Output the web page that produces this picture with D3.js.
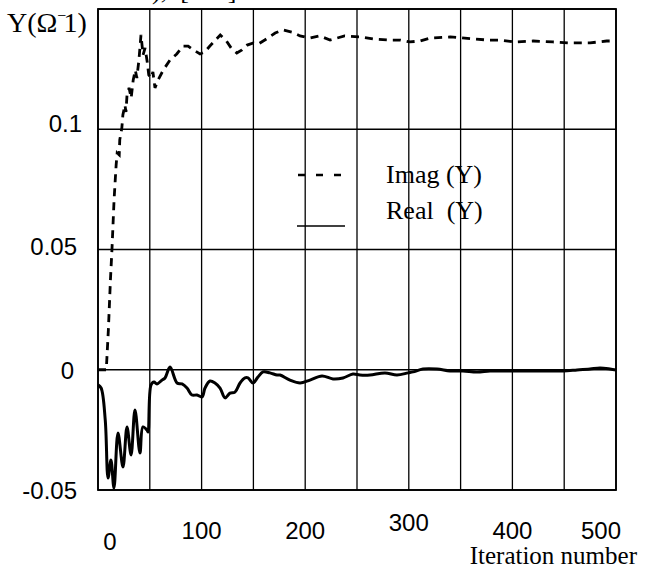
<!DOCTYPE html>
<html>
<head>
<meta charset="utf-8">
<script src="https://cdn.jsdelivr.net/npm/d3@7/dist/d3.min.js"></script>
<style>
  html, body { margin: 0; padding: 0; background: #fff; }
  svg { display: block; }
</style>
</head>
<body>
<svg id="chart" width="655" height="570"></svg>
<script>
// ---- data ----
const imagIter = [0, 8, 10, 12, 13.5, 15.5, 17.5, 18.5, 20.5, 21, 23, 24, 26, 27, 28, 30, 32, 34, 36, 37.5,
  39.5, 41.5, 43.5, 45.5, 47.5, 49, 51, 53, 55, 58, 63, 69.5, 76, 82, 87, 92, 98.5, 103, 108, 118,
  124, 128.5, 134, 139, 144, 150, 154.5, 161, 171, 178.5, 187, 195, 204.5, 214, 224, 238, 253, 267, 282, 291.5,
  301, 311, 320.5, 340, 354, 375.5, 388, 402.5, 420, 439, 455.5, 475, 491, 498];
const imagVal = [0, 0, 0.0165, 0.0373, 0.0502, 0.0706, 0.0851, 0.0901, 0.0893, 0.0956, 0.1005, 0.1059, 0.1101, 0.1072, 0.1142, 0.1172, 0.1130, 0.1205, 0.1246, 0.1213,
  0.1288, 0.1392, 0.1309, 0.1338, 0.1280, 0.1226, 0.1213, 0.1238, 0.1172, 0.1205, 0.1246, 0.1288, 0.1313, 0.1346, 0.1346, 0.1330, 0.1313, 0.1321, 0.1346, 0.1392,
  0.1367, 0.1338, 0.1317, 0.1330, 0.1350, 0.1359, 0.1354, 0.1371, 0.1400, 0.1413, 0.1404, 0.1388, 0.1379, 0.1388, 0.1371, 0.1388, 0.1384, 0.1375, 0.1371, 0.1371,
  0.1363, 0.1367, 0.1379, 0.1384, 0.1379, 0.1371, 0.1371, 0.1363, 0.1367, 0.1363, 0.1359, 0.1359, 0.1367, 0.1367];

const realIter = [0, 3, 7, 9.7, 12.5, 15.4, 19.3, 24.1, 28, 31.9, 35.7, 40.5, 43.4, 47.3, 48.3, 51.2, 54.1, 56.9, 61.8, 64.7,
  69.5, 76.3, 81.1, 85.9, 90.7, 95.6, 100.4, 103.3, 108.1, 112.9, 117.8, 122.6, 127.4, 132.2, 137.1, 141.9, 144.8, 149.6, 154.4, 159.3,
  166, 172.8, 175.7, 185.3, 195, 204.6, 216.2, 226.8, 236.5, 246.1, 252.9, 262.5, 277, 288.6, 299.2, 304.1, 313.7, 327.2, 339.8, 352.3,
  365.8, 378.4, 390.9, 404.4, 417, 436.3, 448.8, 462.4, 474.9, 484.6, 494.2, 500];
const realVal = [-0.0063, -0.0076, -0.0209, -0.0450, -0.0375, -0.0492, -0.0263, -0.0404, -0.0238, -0.0354, -0.0167, -0.0346, -0.0238, -0.0251, -0.0259, -0.0063, -0.0051, -0.0059, -0.0043, -0.0034,
  0.0011, -0.0055, -0.0059, -0.0076, -0.0105, -0.0105, -0.0113, -0.0076, -0.0047, -0.0055, -0.0076, -0.0117, -0.0097, -0.0093, -0.0055, -0.0034, -0.0034, -0.0055, -0.0030, -0.0009,
  -0.0013, -0.0022, -0.0022, -0.0043, -0.0055, -0.0043, -0.0026, -0.0038, -0.0034, -0.0018, -0.0022, -0.0022, -0.0013, -0.0022, -0.0013, -0.0009, 0.0003, 0.0003, -0.0005, -0.0005,
  -0.0009, -0.0005, -0.0005, -0.0005, -0.0005, -0.0005, -0.0005, -0.0001, 0.0003, 0.0007, 0.0003, -0.0001];

const xTickValues = [0, 100, 200, 300, 400, 500];
const xTickLabels = ["0", "100", "200", "300", "400", "500"];
const yTickValues = [0.1, 0.05, 0, -0.05];
const yTickLabels = ["0.1", "0.05", "0", "-0.05"];
const xGridValues = d3.range(0, 501, 50);
const yGridValues = [-0.05, 0, 0.05, 0.1, 0.15];
const seriesNames = ["Imag (Y)", "Real  (Y)"];
const yAxisTitle = ["Y(Ω", "−", "1)"];
const xAxisTitle = "Iteration number";

// ---- layout ----
const svg = d3.select("#chart");
const pLeft = 98, pRight = 616, pTop = 9, pBottom = 490;
const x = d3.scaleLinear().domain([0, 500]).range([pLeft, pRight]);
const y = d3.scaleLinear().domain([-0.05, 0.15]).range([pBottom, pTop]);

const serif = "'Liberation Serif', 'Times New Roman', serif";
const sans = "'Liberation Sans', Arial, sans-serif";

// clipped caption fragment at top
svg.append("text").attr("x", 152).attr("y", -1)
  .attr("font-family", serif).attr("font-size", 26)
  .style("white-space", "pre").text("),  [      ]");

// grid
svg.append("g").selectAll("line").data(xGridValues).join("line")
  .attr("x1", d => x(d)).attr("x2", d => x(d))
  .attr("y1", pTop).attr("y2", pBottom)
  .attr("stroke", "#000").attr("stroke-width", 1.3);
svg.append("g").selectAll("line").data(yGridValues).join("line")
  .attr("x1", pLeft).attr("x2", pRight)
  .attr("y1", d => y(d)).attr("y2", d => y(d))
  .attr("stroke", "#000").attr("stroke-width", 1.3);
// frame
svg.append("rect").attr("x", pLeft).attr("y", pTop)
  .attr("width", pRight - pLeft).attr("height", pBottom - pTop)
  .attr("fill", "none").attr("stroke", "#000").attr("stroke-width", 1.8);

// lines
const imagData = imagIter.map((d, i) => [d, imagVal[i]]);
const realData = realIter.map((d, i) => [d, realVal[i]]);

svg.append("path").datum(realData)
  .attr("d", d3.line().x(d => x(d[0])).y(d => y(d[1])).curve(d3.curveCatmullRom.alpha(0.5)))
  .attr("fill", "none").attr("stroke", "#000").attr("stroke-width", 3)
  .attr("stroke-linejoin", "round");
svg.append("path").datum(imagData)
  .attr("d", d3.line().x(d => x(d[0])).y(d => y(d[1])))
  .attr("fill", "none").attr("stroke", "#000").attr("stroke-width", 2.8)
  .attr("stroke-dasharray", "8,6");

// y tick labels (right edges as in the reference)
const yLabelRight = [82, 77, 74, 77];
const yLabelDy = [3, 5, 9, 9];
svg.append("g").selectAll("text").data(yTickValues).join("text")
  .attr("x", (d, i) => yLabelRight[i]).attr("y", (d, i) => y(d) + yLabelDy[i])
  .attr("text-anchor", "end")
  .attr("font-family", sans).attr("font-size", 24)
  .text((d, i) => yTickLabels[i]);

// x tick labels
svg.append("g").selectAll("text").data(xTickValues).join("text")
  .attr("x", d => x(d) + (d === 0 ? 12 : d === 500 ? -15 : 0))
  .attr("y", d => d === 0 ? 550 : d === 300 ? 531 : 539)
  .attr("text-anchor", "middle")
  .attr("font-family", sans).attr("font-size", 24)
  .text((d, i) => xTickLabels[i]);

// y axis title
const yt = svg.append("text").attr("x", 7).attr("y", 32)
  .attr("font-family", serif).attr("font-size", 28);
yt.append("tspan").text(yAxisTitle[0]);
yt.append("tspan").attr("dx", 0).attr("dy", -11).attr("font-size", 16).text(yAxisTitle[1]);
yt.append("tspan").attr("dx", -3).attr("dy", 11).text(yAxisTitle[2]);

// x axis title
svg.append("text").attr("x", 637).attr("y", 564)
  .attr("text-anchor", "end")
  .attr("font-family", serif).attr("font-size", 25)
  .text(xAxisTitle);

// legend
const legend = svg.append("g");
legend.append("line").attr("x1", 298).attr("x2", 345).attr("y1", 175).attr("y2", 175)
  .attr("stroke", "#000").attr("stroke-width", 2.4).attr("stroke-dasharray", "7,11");
legend.append("line").attr("x1", 297).attr("x2", 345).attr("y1", 226).attr("y2", 226)
  .attr("stroke", "#000").attr("stroke-width", 1.3);
legend.append("text").attr("x", 386).attr("y", 183)
  .attr("font-family", serif).attr("font-size", 26).style("white-space", "pre")
  .text(seriesNames[0]);
legend.append("text").attr("x", 386).attr("y", 219)
  .attr("font-family", serif).attr("font-size", 26).style("white-space", "pre")
  .text(seriesNames[1]);
</script>
</body>
</html>
